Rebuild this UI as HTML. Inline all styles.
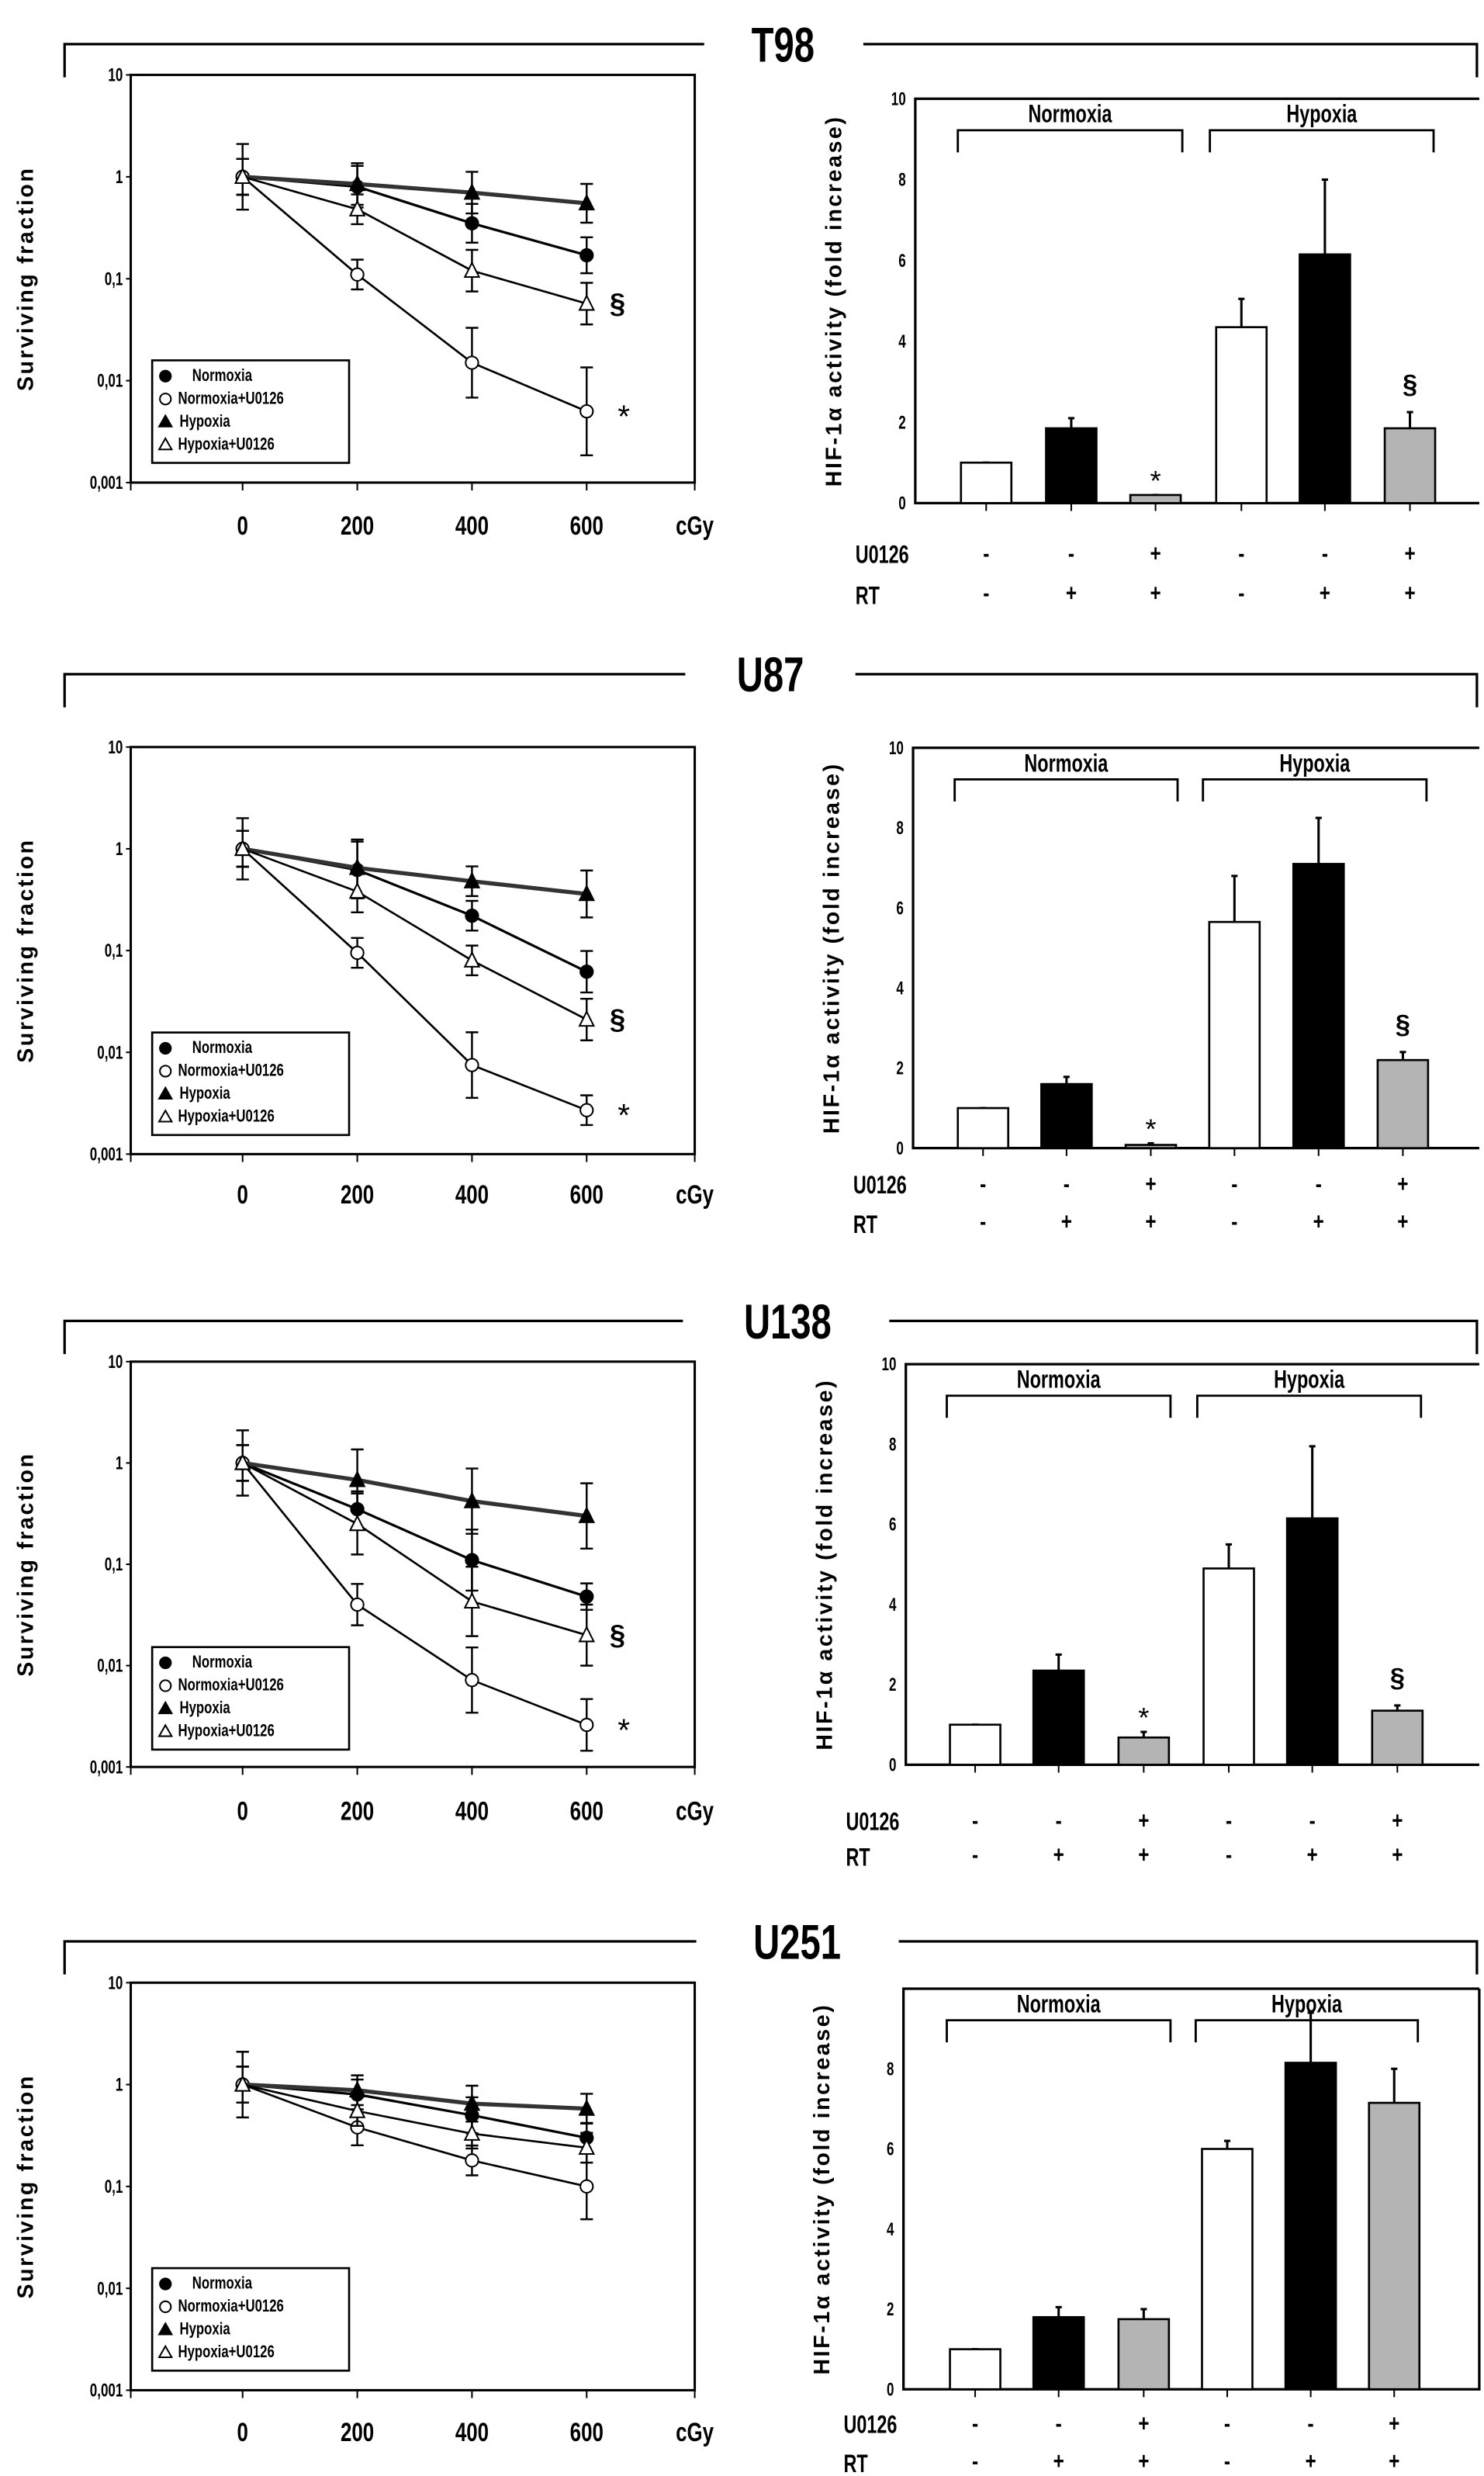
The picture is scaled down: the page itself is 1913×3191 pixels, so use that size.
<!DOCTYPE html>
<html><head><meta charset="utf-8"><style>
html,body{margin:0;padding:0;background:#fff;}
svg{display:block;}
text{font-family:"Liberation Sans",sans-serif;}
.cond{font-family:"Liberation Sans Narrow","Liberation Sans",sans-serif;font-weight:bold;}
</style></head><body>
<svg id="fig" width="1913" height="3191" viewBox="0 0 942 1570" preserveAspectRatio="none" xmlns="http://www.w3.org/2000/svg"></svg>
<script>
const doses=[0,200,400,600];
const doseTicks=['0','200','400','600'];
const logTickLabels=['10','1','0,1','0,01','0,001'];
const barTickLabels=['0','2','4','6','8','10'];
const u0126Row=['-','-','+','-','-','+'];
const rtRow=['-','+','+','-','+','+'];
const seriesNames=['Normoxia','Normoxia+U0126','Hypoxia','Hypoxia+U0126'];

const t98Norm=[1,0.8,0.35,0.17];
const t98NormU=[1,0.11,0.015,0.005];
const t98Hyp=[1,0.85,0.7,0.55];
const t98HypU=[1,0.48,0.12,0.057];
const t98NormErr=[1.5,1.6,1.55,1.5];
const t98NormUErr=[2.1,1.4,2.2,2.7];
const t98HypErr=[1.5,1.6,1.6,1.55];
const t98HypUErr=[1.5,1.4,1.6,1.6];
const t98Bars=[1,1.85,0.2,4.35,6.15,1.85];
const t98BarErr=[1,2.1,0.2,5.05,8.0,2.25];

const u87Norm=[1,0.62,0.22,0.062];
const u87NormU=[1,0.095,0.0075,0.0027];
const u87Hyp=[1,0.65,0.48,0.36];
const u87HypU=[1,0.38,0.08,0.021];
const u87NormErr=[1.5,1.9,1.4,1.6];
const u87NormUErr=[2.0,1.4,2.1,1.4];
const u87HypErr=[1.5,1.9,1.4,1.7];
const u87HypUErr=[1.5,1.6,1.4,1.6];
const u87Bars=[1,1.6,0.08,5.65,7.1,2.2];
const u87BarErr=[1,1.78,0.12,6.8,8.25,2.4];

const u138Norm=[1,0.35,0.11,0.048];
const u138NormU=[1,0.04,0.0072,0.0026];
const u138Hyp=[1,0.68,0.42,0.3];
const u138HypU=[1,0.25,0.043,0.02];
const u138NormErr=[1.5,1.5,2.0,1.35];
const u138NormUErr=[2.1,1.6,2.1,1.8];
const u138HypErr=[1.5,2.0,2.1,2.1];
const u138HypUErr=[1.5,2.0,2.2,2.0];
const u138Bars=[1,2.35,0.68,4.9,6.15,1.35];
const u138BarErr=[1,2.75,0.82,5.5,7.95,1.48];

const u251Norm=[1,0.8,0.5,0.3];
const u251NormU=[1,0.38,0.18,0.1];
const u251Hyp=[1,0.88,0.65,0.58];
const u251HypU=[1,0.55,0.33,0.24];
const u251NormErr=[1.5,1.4,1.5,1.4];
const u251NormUErr=[2.1,1.5,1.4,2.1];
const u251HypErr=[1.5,1.4,1.5,1.4];
const u251HypUErr=[1.5,1.4,1.4,1.4];
const u251Bars=[1,1.8,1.75,6,8.15,7.15];
const u251BarErr=[1,2.05,2.0,6.2,9.4,8.0];

const svg=document.getElementById('fig');
const NS='http://www.w3.org/2000/svg';
function mk(tag,attrs,parent){const e=document.createElementNS(NS,tag);for(const k in attrs)e.setAttribute(k,attrs[k]);(parent||svg).appendChild(e);return e;}
function txt(s,attrs,parent){const e=mk('text',attrs,parent);e.textContent=s;return e;}
// condensed text: squeeze horizontally
function ctxt(s,x,y,size,anchor,parent,sx){const e=mk('text',{x:0,y:0,transform:`translate(${x} ${y}) scale(${sx||0.8} 1)`,'text-anchor':anchor||'start','font-size':size,class:'cond'},parent);e.textContent=s;return e;}

const panels=[
 {id:'t98',title:'T98',tx:497,lineY:28,lGap:447,rGap:548,T:47.5,B:306,bT:62.6,bB:319,bL:581,bx:[626,680,733.5,788,841,895],xl:333,uy:351,ry:376,ser:[t98Norm,t98NormU,t98Hyp,t98HypU],err:[t98NormErr,t98NormUErr,t98HypErr,t98HypUErr],bars:t98Bars,barErr:t98BarErr,star:true,sect:true,top10:true,rb:false},
 {id:'u87',title:'U87',tx:489,lineY:427.5,lGap:435,rGap:543,T:473.7,B:731.8,bT:474.2,bB:728,bL:579.6,bx:[624,677,730.5,783.6,837,890.5],xl:757,uy:750.7,ry:774.7,ser:[u87Norm,u87NormU,u87Hyp,u87HypU],err:[u87NormErr,u87NormUErr,u87HypErr,u87HypUErr],bars:u87Bars,barErr:u87BarErr,star:true,sect:true,top10:true,rb:false},
 {id:'u138',title:'U138',tx:500,lineY:837.6,lGap:433.5,rGap:564.5,T:863.4,B:1120.4,bT:865,bB:1119,bL:575,bx:[619,672,726,780,833,887],xl:1148,uy:1154.5,ry:1176,ser:[u138Norm,u138NormU,u138Hyp,u138HypU],err:[u138NormErr,u138NormUErr,u138HypErr,u138HypUErr],bars:u138Bars,barErr:u138BarErr,star:true,sect:true,top10:true,rb:false},
 {id:'u251',title:'U251',tx:506,lineY:1231,lGap:442,rGap:570.5,T:1257.2,B:1515.6,bT:1261,bB:1515,bL:573.5,bx:[619,672,726,779,832,885],xl:1541.8,uy:1536.8,ry:1560.5,ser:[u251Norm,u251NormU,u251Hyp,u251HypU],err:[u251NormErr,u251NormUErr,u251HypErr,u251HypUErr],bars:u251Bars,barErr:u251BarErr,star:false,sect:false,top10:false,rb:true}
];

panels.forEach(p=>{
 const g=mk('g',{});
 
 
 const hb=mk('path',{d:`M41 ${p.lineY+21} V${p.lineY} H${p.lGap} M${p.rGap} ${p.lineY} H937.5 V${p.lineY+21}`,fill:'none',stroke:'#000','stroke-width':1.6},g);
 
 
 const tt=ctxt(p.title,p.tx,p.lineY+11,31,'middle',g,0.75);
 
 

 const L=83,R=441,T=p.T,B=p.B;
 const x0=154,xs=72.8/200;
 const X=d=>x0+d*xs;
 const Y=v=>T+(1-Math.log10(v))*(B-T)/4;
 const sg=mk('g',{},g);
 
 
 mk('rect',{x:L,y:T,width:R-L,height:B-T,fill:'none',stroke:'#000','stroke-width':1.5},sg);
 logTickLabels.forEach((s,i)=>{const yy=T+i*(B-T)/4;
  const t=ctxt(s,L-5,yy+4,12,'end',sg,0.7);
  
  
  mk('line',{x1:L-3,x2:L,y1:yy,y2:yy,stroke:'#000'},sg);});
 doses.forEach((d,i)=>{
  mk('line',{x1:X(d),x2:X(d),y1:B,y2:B+5,stroke:'#000'},sg);
  const t=ctxt(doseTicks[i],X(d),p.xl+6,17,'middle',sg,0.75);
  
  
 });
 mk('line',{x1:L,x2:L,y1:B,y2:B+5,stroke:'#000'},sg);
 mk('line',{x1:R,x2:R,y1:B,y2:B+5,stroke:'#000'},sg);
 const cg=ctxt('cGy',R,p.xl+6,17,'middle',sg,0.75);
 
 
 const yt=txt('Surviving fraction',{x:0,y:0,transform:`translate(21 ${T+(B-T)/2}) rotate(-90)`,'text-anchor':'middle','font-size':14,'font-weight':'bold','letter-spacing':1.3},sg);
 
 
 const widths=[1.6,1.3,2.6,1.3];
 p.ser.forEach((vals,si)=>{
  const sgg=mk('g',{},sg);
  
  
  mk('polyline',{points:vals.map((v,i)=>X(doses[i])+','+Y(v)).join(' '),fill:'none',stroke:si==2?'#333':'#000','stroke-width':widths[si]},sgg);
  vals.forEach((v,i)=>{const f=p.err[si][i],x=X(doses[i]);
   const hi=Y(v*f),lo=Y(v/f);
   mk('path',{d:`M${x} ${hi}V${lo}M${x-4} ${hi}H${x+4}M${x-4} ${lo}H${x+4}`,stroke:'#000','stroke-width':1.2,fill:'none'},sgg);});
  vals.forEach((v,i)=>{const x=X(doses[i]),y=Y(v);let m;
   if(si<2) m=mk('circle',{cx:x,cy:y,r:4,fill:si==0?'#000':'#fff',stroke:'#000','stroke-width':1},sgg);
   else m=mk('path',{d:`M${x} ${y-5}L${x+4.5} ${y+4}L${x-4.5} ${y+4}Z`,fill:si==2?'#000':'#fff',stroke:'#000','stroke-width':1},sgg);
   
   });
 });
 if(p.sect){
  const s1=txt('§',{x:392,y:Y(p.ser[3][3])+6,'text-anchor':'middle','font-size':18,'font-weight':'bold'},sg);
  
  
  const s2=txt('*',{x:396,y:Y(p.ser[1][3])+10,'text-anchor':'middle','font-size':20},sg);
  
  
 }
 const lg=mk('g',{},sg);
 
 
 const ly=T+181;
 mk('rect',{x:96.6,y:ly,width:125,height:65,fill:'#fff',stroke:'#000','stroke-width':1.3},lg);
 seriesNames.forEach((n,i)=>{const yy=ly+9+i*14.5,x=105;
  if(i<2) mk('circle',{cx:x,cy:yy+1,r:3.5,fill:i==0?'#000':'#fff',stroke:'#000'},lg);
  else mk('path',{d:`M${x} ${yy-3}L${x+4} ${yy+4}L${x-4} ${yy+4}Z`,fill:i==2?'#000':'#fff',stroke:'#000'},lg);
  const t=ctxt(n,i==0?122:i==2?114:113,yy+4,11,'start',lg,0.75);
  
  });

 const bL=p.bL,bR=939,bT=p.bT,bB=p.bB;
 const BY=v=>bB-v*(bB-bT)/10;
 const bg=mk('g',{},g);
 
 
 mk('path',{d:`M${bR} ${bT}H${bL}V${bB}H${bR}`+(p.rb?`V${bT}`:''),fill:'none',stroke:'#000','stroke-width':1.6},bg);
 barTickLabels.forEach((s,i)=>{if(i==5&&!p.top10)return;const yy=BY(i*2);
  const t=ctxt(s,bL-6,yy+4,12,'end',bg,0.7);
  
  });
 const bt=txt('HIF-1α activity (fold increase)',{x:0,y:0,transform:`translate(${bL-47} ${bT+(bB-bT)/2}) rotate(-90)`,'text-anchor':'middle','font-size':14,'font-weight':'bold','letter-spacing':1.3},bg);
 
 
 const fills=['#fff','#000','#b4b4b4','#fff','#000','#b4b4b4'];
 p.bars.forEach((v,i)=>{const cx=p.bx[i],w=32;
  mk('line',{x1:cx,x2:cx,y1:BY(v),y2:BY(p.barErr[i]),stroke:'#000','stroke-width':1.5},bg);
  mk('line',{x1:cx-2,x2:cx+2,y1:BY(p.barErr[i]),y2:BY(p.barErr[i]),stroke:'#000','stroke-width':1.5},bg);
  const r=mk('rect',{x:cx-w/2,y:BY(v),width:w,height:bB-BY(v),fill:fills[i],stroke:'#000','stroke-width':1.3},bg);
  
  
  mk('line',{x1:cx,x2:cx,y1:bB,y2:bB+5,stroke:'#000'},bg);
  const a=ctxt(u0126Row[i],cx,p.uy+5,15,'middle',bg,0.8);
  
  
  const b=ctxt(rtRow[i],cx,p.ry+5,15,'middle',bg,0.8);
  
  
 });
 const ul=ctxt('U0126',bL-38,p.uy+6,16,'start',bg,0.72);
 
 
 const rl=ctxt('RT',bL-38,p.ry+7,16,'start',bg,0.72);
 
 
 if(p.star){
  const s=txt('*',{x:p.bx[2],y:BY(p.barErr[2])-3,'text-anchor':'middle','font-size':18},bg);
  
  
  const s2=txt('§',{x:p.bx[5],y:BY(p.barErr[5])-12,'text-anchor':'middle','font-size':17,'font-weight':'bold'},bg);
  
  
 }
 const by=bT+20;
 const n1=p.bx[0]-18,n2=p.bx[2]+17,h1=p.bx[3]-20,h2=p.bx[5]+15;
 [[n1,n2,'Normoxia'],[h1,h2,'Hypoxia']].forEach(([a,b,l])=>{
  const br=mk('path',{d:`M${a} ${by+14}V${by}H${b}V${by+14}`,fill:'none',stroke:'#000','stroke-width':1.4},bg);
  
  
  const t=ctxt(l,(a+b)/2,bT+15,16,'middle',bg,0.72);
  
  
 });
});
</script>
</body></html>
